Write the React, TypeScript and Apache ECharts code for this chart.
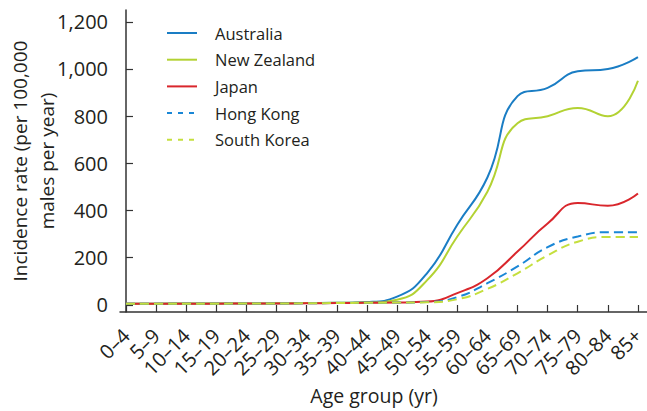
import React, { useEffect, useRef } from "react";
import * as echarts from "echarts";

const categories = ["0–4","5–9","10–14","15–19","20–24","25–29","30–34","35–39","40–44","45–49","50–54","55–59","60–64","65–69","70–74","75–79","80–84","85+"];
const australia = [5, 5, 6, 6, 6, 7, 8, 9, 12, 35, 135, 340, 540, 885, 920, 990, 1000, 1050];
const newZealand = [5, 5, 6, 6, 6, 7, 8, 9, 10, 22, 105, 290, 480, 770, 800, 835, 800, 950];
const japan = [5, 5, 5, 5, 6, 6, 7, 8, 9, 10, 14, 50, 113, 226, 345, 432, 420, 472];
const hongKong = [5, 5, 5, 5, 6, 6, 7, 8, 9, 10, 12, 33, 92, 163, 245, 290, 308, 308];
const southKorea = [5, 5, 5, 5, 6, 6, 7, 8, 9, 10, 11, 24, 68, 134, 210, 268, 288, 288];
const yTicks = [0, 200, 400, 600, 800, 1000, 1200];

const FONT = "Open Sans";
const TEXT = "#231f20";

function pairs(vals: number[]) {
  return vals.map((v, i) => [i, v]);
}

export default function App() {
  const ref = useRef<HTMLDivElement>(null);
  useEffect(() => {
    if (!ref.current) return;
    const chart = echarts.init(ref.current, undefined, { renderer: "svg" });
    const mk = (name: string, vals: number[], color: string, dashed: boolean) => ({
      name,
      type: "line",
      data: pairs(vals),
      smooth: true,
      symbol: "none",
      showSymbol: false,
      lineStyle: { color, width: 2, type: dashed ? [9, 5] : "solid" },
      itemStyle: { color },
    });
    chart.setOption({
      animation: false,
      textStyle: { fontFamily: FONT, color: TEXT },
      grid: { left: 120, right: 0, top: 10, bottom: 99, outerBoundsMode: "none", containLabel: false },
      legend: {
        orient: "vertical",
        left: 166,
        top: 23,
        padding: 0,
        itemWidth: 30,
        itemHeight: 20,
        itemGap: 6.7,
        itemStyle: { opacity: 0, borderWidth: 0 },
        textStyle: { fontFamily: FONT, fontSize: 16.5, color: TEXT, lineHeight: 20, padding: [0, 0, 0, 13] },
        data: [
          { name: "Australia" },
          { name: "New Zealand" },
          { name: "Japan" },
          { name: "Hong Kong", lineStyle: { type: [5, 6] } },
          { name: "South Korea", lineStyle: { type: [5, 6] } },
        ],
      },
      xAxis: {
        type: "value",
        min: -0.2,
        max: 17.3,
        name: "Age group (yr)",
        nameLocation: "middle",
        nameGap: 73,
        nameMoveOverlap: false,
        nameTextStyle: { fontFamily: FONT, fontSize: 19.5, color: TEXT, padding: [0, 19, 0, 0] },
        axisLine: { onZero: false, lineStyle: { color: "#333", width: 1.5 } },
        axisTick: { inside: true, length: 7, customValues: categories.map((_, i) => i), lineStyle: { color: "#333", width: 1.2 } },
        axisLabel: {
          customValues: categories.map((_, i) => i),
          formatter: (v: number) => categories[Math.round(v)] ?? "",
          rotate: 45,
          margin: 20,
          fontFamily: FONT,
          fontSize: 20,
          color: TEXT,
        },
        splitLine: { show: false },
      },
      yAxis: {
        type: "value",
        min: -30,
        max: 1250,
        name: "Incidence rate (per 100,000\nmales per year)",
        nameLocation: "middle",
        nameRotate: 90,
        nameGap: 60,
        nameMoveOverlap: false,
        nameTextStyle: { fontFamily: FONT, fontSize: 19, color: TEXT, lineHeight: 27 },
        axisLine: { show: true, lineStyle: { color: "#333", width: 1.5 } },
        axisTick: { show: true, inside: true, length: 7, customValues: yTicks, lineStyle: { color: "#333", width: 1.2 } },
        axisLabel: {
          customValues: yTicks,
          formatter: (v: number) => v.toLocaleString("en-US"),
          margin: 12,
          fontFamily: FONT,
          fontSize: 20,
          color: TEXT,
        },
        splitLine: { show: false },
      },
      series: [
        mk("Australia", australia, "#1a7dc4", false),
        mk("New Zealand", newZealand, "#b3d233", false),
        mk("Japan", japan, "#d9262c", false),
        mk("Hong Kong", hongKong, "#1a87d6", true),
        mk("South Korea", southKorea, "#c5df3e", true),
      ],
    });
    return () => chart.dispose();
  }, []);
  return <div ref={ref} style={{ width: 647, height: 411, position: "absolute", left: 0, top: 0 }} />;
}
